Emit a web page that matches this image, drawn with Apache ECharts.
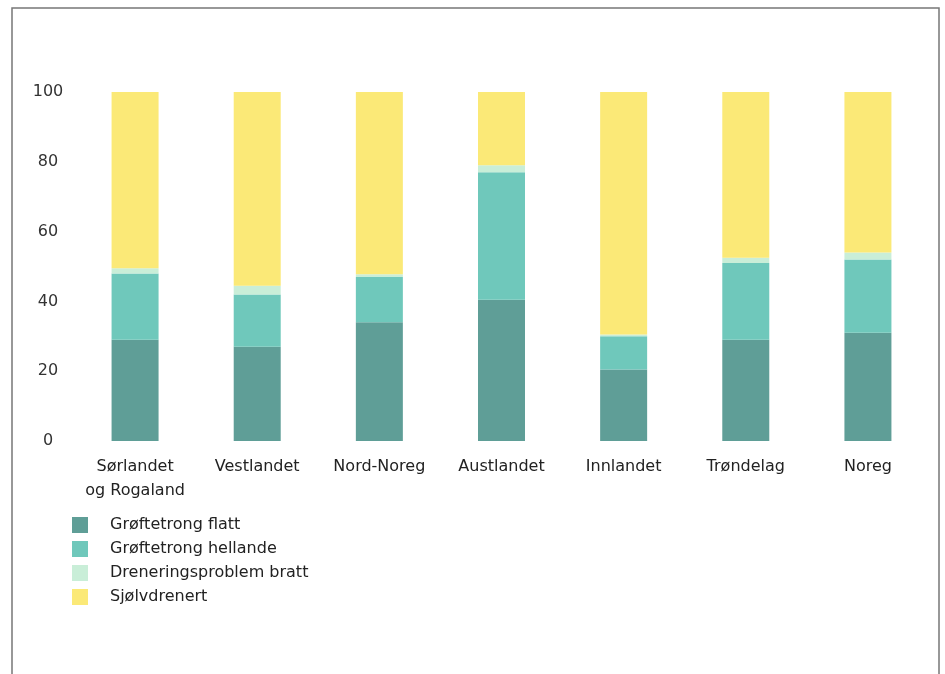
<!DOCTYPE html>
<html>
	<head>
		<meta charset="utf-8">
		<title>Drenering</title>
		<script src="https://cdn.jsdelivr.net/npm/echarts@6/dist/echarts.min.js"></script>
	</head>
	<body style="margin:0;background:#fff;">
		<div id="main" style="width: 945px;height:674px;"></div>
		<script type="text/javascript">
			// regionar og verdiar (prosent), lese av figuren
			var regionar = ['Sørlandet\nog Rogaland', 'Vestlandet', 'Nord-Noreg', 'Austlandet', 'Innlandet', 'Trøndelag', 'Noreg'];
			var flatt = [29, 27, 34, 40.5, 20.5, 29, 31];
			var hellande = [19, 15, 13, 36.5, 9.5, 22, 21];
			var bratt = [1.5, 2.5, 0.8, 2, 0.5, 1.5, 2];
			var sjolvdrenert = [50.5, 55.5, 52.2, 21, 69.5, 47.5, 46];

			var namn = ['Grøftetrong flatt', 'Grøftetrong hellande', 'Dreneringsproblem bratt', 'Sjølvdrenert'];
			var fargar = ['#5f9e97', '#6fc8bb', '#c9eed8', '#fbe977'];
			var verdiar = [flatt, hellande, bratt, sjolvdrenert];

			var myChart = echarts.init(document.getElementById('main'));
			var font = 'DejaVu Sans';

			var series = namn.map(function(n, i) {
				return {
					name: n,
					type: 'bar',
					stack: 'sum',
					barWidth: 47,
					itemStyle: { color: fargar[i] },
					data: verdiar[i]
				};
			});

			var option = {
				animation: false,
				textStyle: { fontFamily: font },
				graphic: [{
					type: 'rect',
					shape: { x: 12, y: 8, width: 927, height: 700 },
					style: { fill: 'none', stroke: '#777', lineWidth: 1.5 }
				}],
				legend: {
					orient: 'vertical',
					left: 67,
					top: 512,
					itemWidth: 16,
					itemHeight: 16,
					itemGap: 8,
					icon: 'rect',
					data: namn,
					textStyle: { fontSize: 16, color: '#222', fontFamily: font, padding: [0, 0, 0, 17] }
				},
				grid: { left: 74, right: 16, top: 92, bottom: 233 },
				xAxis: {
					type: 'category',
					data: regionar,
					axisLine: { show: false },
					axisTick: { show: false },
					axisLabel: { interval: 0, color: '#222', fontSize: 16, margin: 14, lineHeight: 24, fontFamily: font }
				},
				yAxis: {
					type: 'value',
					min: 0,
					max: 100,
					interval: 20,
					splitLine: { show: false },
					axisLine: { show: false },
					axisTick: { show: false },
					axisLabel: { color: '#333', fontSize: 16, align: 'center', margin: 26, fontFamily: font }
				},
				series: series
			};

			myChart.setOption(option);
		</script>
	</body>
</html>
